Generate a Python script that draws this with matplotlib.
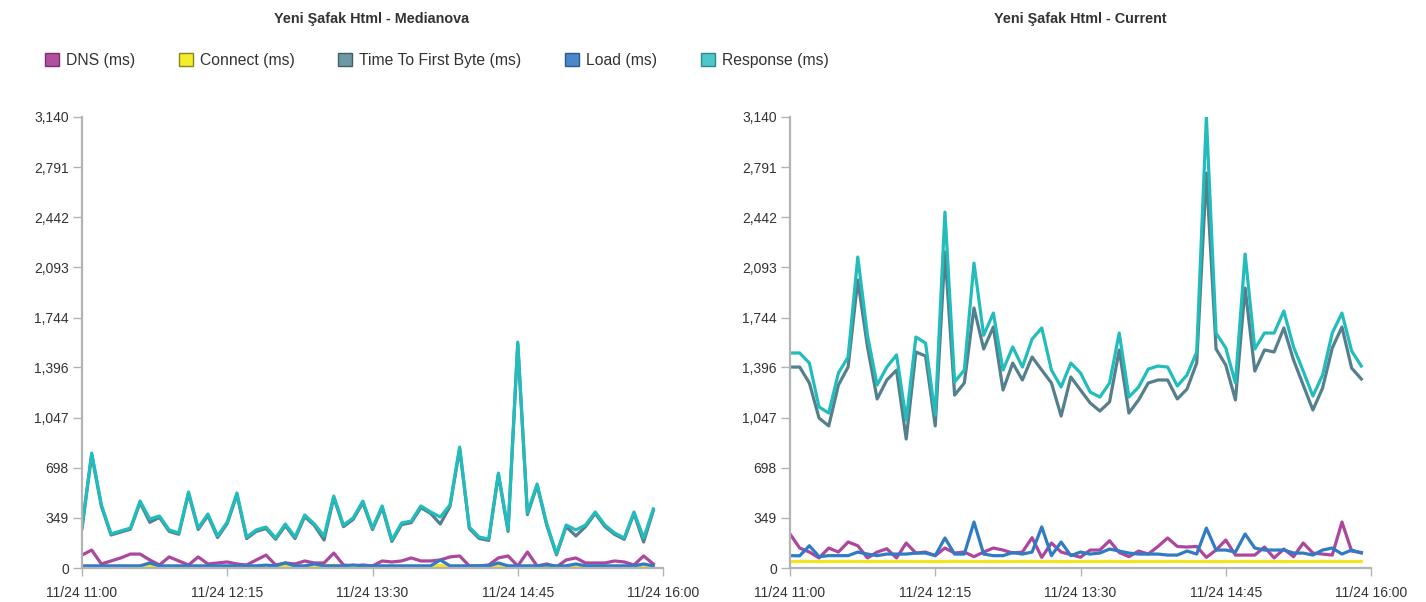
import numpy as np
import pandas as pd
import matplotlib
matplotlib.use("Agg")
import matplotlib.pyplot as plt
import matplotlib.dates as mdates
from matplotlib.patches import Patch

plt.rcParams['font.family'] = ['Liberation Sans', 'DejaVu Sans']

# 5-minute samples, 11:00 -> 15:55
times = pd.date_range("2023-11-24 11:00", periods=60, freq="5min")

series_names = ["DNS (ms)", "Connect (ms)", "Time To First Byte (ms)", "Load (ms)", "Response (ms)"]
colors = ["#ab479d", "#f2e51e", "#557f8c", "#2f7cc4", "#22bcbc"]
legend_face = ["#b0509f", "#f5ec2a", "#6d97a4", "#4a89c9", "#4fc7c9"]
legend_edge = ["#7a2f6c", "#8c8420", "#3f5f69", "#2a5a8a", "#2b8a8c"]

ytick_vals = [0, 349, 698, 1047, 1396, 1744, 2093, 2442, 2791, 3140]

# --- Medianova ---
dns_med = [90, 125, 28, 49, 70, 97, 97, 56, 21, 77, 49, 21, 77, 28, 35, 42, 28, 21, 56, 90,
           21, 35, 28, 49, 35, 35, 104, 21, 14, 21, 14, 49, 42, 49, 70, 49, 49, 56, 77, 84,
           14, 14, 21, 70, 84, 14, 111, 14, 28, 7, 56, 70, 35, 35, 35, 49, 42, 21, 84, 28]
connect_med = [5, 5, 5, 5, 5, 5, 5, 20, 5, 5, 5, 5, 5, 5, 5, 5, 8, 12, 10, 5,
               5, 15, 5, 5, 5, 12, 20, 5, 5, 5, 5, 5, 15, 5, 5, 5, 5, 20, 5, 5,
               5, 5, 5, 15, 5, 5, 5, 5, 5, 5, 5, 15, 5, 5, 5, 5, 5, 5, 20, 5]
ttfb_med = [275, 790, 430, 230, 250, 270, 455, 318, 352, 255, 235, 518, 268, 365, 212, 310, 510, 205, 255, 275,
            200, 295, 205, 358, 296, 195, 490, 288, 338, 455, 268, 420, 185, 302, 316, 420, 380, 306, 428, 830,
            275, 206, 192, 650, 255, 1560, 372, 574, 296, 92, 288, 223, 288, 380, 288, 234, 200, 380, 181, 400]
load_med = [15, 15, 15, 15, 15, 15, 15, 35, 15, 15, 15, 15, 15, 15, 15, 15, 15, 15, 15, 20,
            15, 35, 15, 15, 28, 15, 15, 15, 21, 15, 15, 15, 15, 15, 15, 15, 15, 56, 15, 15,
            15, 15, 15, 35, 15, 15, 15, 15, 21, 15, 15, 28, 15, 15, 15, 15, 15, 15, 28, 15]
resp_med = [285, 800, 440, 237, 258, 278, 466, 341, 362, 265, 244, 529, 278, 376, 223, 320, 522, 216, 265, 285,
            209, 306, 216, 369, 306, 223, 501, 299, 348, 466, 278, 432, 195, 313, 327, 432, 390, 355, 439, 842,
            285, 216, 202, 661, 265, 1573, 383, 585, 306, 100, 299, 265, 299, 390, 299, 244, 209, 390, 209, 411]

# --- Current ---
dns_cur = [237, 139, 111, 70, 139, 111, 181, 155, 70, 111, 134, 70, 174, 104, 111, 86, 139, 104, 111, 79,
           111, 139, 125, 104, 111, 211, 74, 174, 111, 93, 75, 125, 125, 190, 108, 79, 118, 97, 150, 209,
           150, 146, 150, 74, 125, 195, 90, 90, 90, 146, 70, 132, 79, 174, 104, 97, 90, 320, 118, 108]
connect_cur = [45, 45, 46, 44, 45, 45, 46, 45, 44, 45, 45, 45, 46, 45, 45, 44, 45, 46, 45, 45,
               45, 44, 45, 45, 46, 45, 45, 45, 44, 45, 45, 45, 45, 46, 45, 44, 45, 45, 45, 45,
               46, 45, 45, 45, 44, 45, 45, 46, 45, 45, 45, 44, 45, 45, 45, 46, 45, 45, 45, 45]
ttfb_cur = [1399, 1399, 1288, 1044, 989, 1274, 1399, 2005, 1540, 1177, 1309, 1378, 898, 1504, 1476, 989, 2200, 1204, 1288, 1810,
            1525, 1678, 1239, 1427, 1309, 1469, 1378, 1288, 1058, 1330, 1239, 1149, 1093, 1156, 1518, 1079, 1170, 1288, 1309, 1309,
            1177, 1246, 1427, 2750, 1525, 1413, 1170, 1949, 1371, 1518, 1504, 1671, 1448, 1274, 1100, 1253, 1532, 1678, 1392, 1316]
load_cur = [86, 85, 155, 79, 86, 86, 86, 111, 97, 86, 97, 97, 97, 104, 104, 86, 209, 97, 97, 320,
            97, 86, 86, 108, 97, 111, 286, 86, 181, 86, 111, 97, 104, 132, 118, 104, 97, 97, 97, 90,
            90, 118, 97, 278, 125, 125, 111, 237, 139, 125, 125, 125, 104, 104, 90, 125, 139, 97, 125, 104]
resp_cur = [1497, 1497, 1427, 1121, 1079, 1358, 1469, 2165, 1620, 1274, 1399, 1483, 1030, 1608, 1566, 1065, 2478, 1295, 1378, 2123,
            1620, 1775, 1378, 1539, 1399, 1594, 1671, 1378, 1260, 1427, 1358, 1225, 1190, 1288, 1636, 1190, 1260, 1385, 1406, 1399,
            1267, 1344, 1504, 3140, 1636, 1532, 1288, 2186, 1525, 1636, 1636, 1789, 1539, 1371, 1197, 1344, 1636, 1775, 1511, 1406]

fig = plt.figure(figsize=(14.26, 6.02), dpi=100)

panels = [
    ("Yeni Şafak Html - Medianova", [dns_med, connect_med, ttfb_med, load_med, resp_med], 82),
    ("Yeni Şafak Html - Current", [dns_cur, connect_cur, ttfb_cur, load_cur, resp_cur], 790),
]

for title, data, left_px in panels:
    ax = fig.add_axes([left_px / 1426, 34 / 602, 581 / 1426, 451 / 602])
    for vals, c in zip(data, colors):
        ax.plot(times, vals, color=c, lw=2.3)
    ax.set_xlim(pd.Timestamp("2023-11-24 11:00"), pd.Timestamp("2023-11-24 16:00"))
    ax.set_ylim(0, 3140)
    ax.set_yticks(ytick_vals)
    ax.set_yticklabels([f"{v:,}" for v in ytick_vals])
    ax.set_xticks(pd.date_range("2023-11-24 11:00", "2023-11-24 16:00", freq="75min"))
    ax.xaxis.set_major_formatter(mdates.DateFormatter("%m/%d %H:%M"))
    for s in ["top", "right"]:
        ax.spines[s].set_visible(False)
    for s in ["left", "bottom"]:
        ax.spines[s].set_color("#b3b3b3")
        ax.spines[s].set_linewidth(1.6)
    ax.tick_params(axis="y", length=6.5, width=1, color="#b3b3b3", pad=3, labelsize=10, labelcolor="#333333")
    ax.tick_params(axis="x", length=6, width=1, color="#b3b3b3", pad=7, labelsize=10, labelcolor="#333333")
    fig.text((left_px + 290) / 1426, 1 - 19.5 / 602, title, ha="center", va="center",
             fontsize=10.4, fontweight="bold", color="#333333")

handles = [Patch(facecolor=f, edgecolor=e, linewidth=1) for f, e in zip(legend_face, legend_edge)]
fig.legend(handles, series_names, loc="center left", bbox_to_anchor=(45 / 1426, 1 - 60 / 602),
           ncol=5, frameon=False, fontsize=11.35, handlelength=0.9, handleheight=0.9,
           handletextpad=0.45, columnspacing=2.75, borderpad=0, borderaxespad=0,
           labelcolor="#333333")

fig.savefig("out.png", dpi=100)
